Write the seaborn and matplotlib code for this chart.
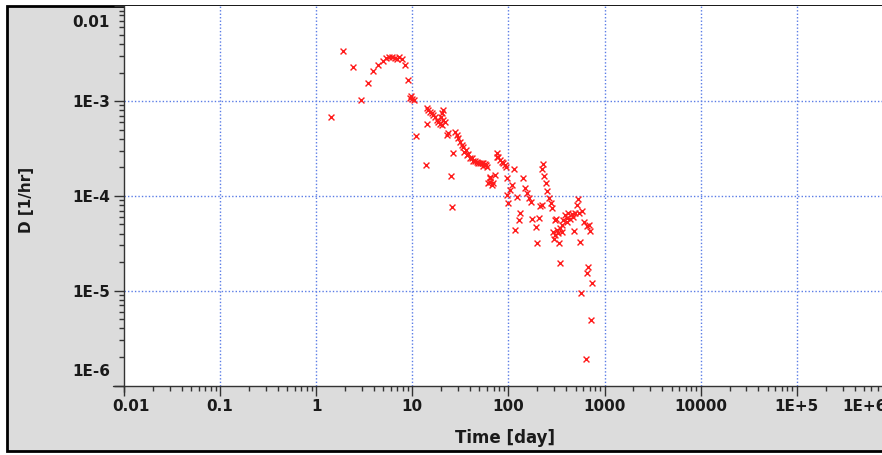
import matplotlib
matplotlib.use("Agg")
import matplotlib.pyplot as plt
import matplotlib.transforms as mtransforms
from matplotlib.patches import Rectangle
from matplotlib.lines import Line2D
from matplotlib.ticker import LogLocator, NullFormatter, FixedLocator
import seaborn as sns
import pandas as pd

# ---------------- data ----------------
time_day = [1.43, 1.90, 2.41, 2.93, 3.46, 3.90, 4.40, 4.96, 5.33, 5.72, 6.15, 6.61,
            6.93, 7.27, 7.81, 8.40, 9.02, 9.46, 9.69, 9.93, 10.4, 10.9, 13.9, 14.2,
            14.2, 14.7, 15.3, 15.9, 16.5, 17.2, 17.9, 18.6, 19.4, 20.2,
            21.0, 20.5, 19.9, 21.0, 21.9, 23.7, 22.8, 26.7, 25.0, 26.1,
            27.8, 29.0, 30.1, 31.4, 32.7, 34.0, 34.5, 35.8, 36.8, 38.3, 39.8, 41.5,
            43.1, 44.9, 46.8, 48.8, 50.6, 52.7, 54.8, 57.1, 58.5, 60.3,
            64.4, 64.4, 61.8, 67.0, 69.7, 64.4, 72.5, 53.8,
            75.5, 76.6, 78.5, 81.8, 85.2, 88.5, 92.2, 94.4,
            113, 96.7, 108, 104, 143, 149, 155, 162, 170, 96.0, 99.8, 122, 213, 228,
            222, 235, 246, 254, 267, 275, 282,
            132, 129, 117, 175, 208, 194, 200, 305, 222,
            293, 318, 344, 305, 330, 359, 298, 336, 344, 313,
            388, 420, 456, 404, 438, 473, 373, 407, 493, 361, 534, 521, 579, 547,
            484, 556, 612, 653, 695, 706, 674, 653, 741, 569, 724, 642]

d_per_hr = [6.79e-4, 3.37e-3, 2.29e-3, 1.03e-3, 1.55e-3, 2.08e-3, 2.41e-3, 2.65e-3,
            2.85e-3, 2.92e-3, 2.92e-3, 2.85e-3, 2.78e-3, 2.92e-3, 2.78e-3, 2.41e-3,
            1.67e-3, 1.08e-3, 1.13e-3, 1.05e-3, 1.03e-3, 4.28e-4, 2.12e-4, 5.73e-4,
            8.46e-4, 8.05e-4, 7.67e-4, 7.43e-4, 7.13e-4, 6.75e-4, 6.32e-4, 6.07e-4,
            5.69e-4, 5.60e-4,
            8.05e-4, 7.43e-4, 6.84e-4, 6.32e-4, 6.07e-4, 4.57e-4, 4.39e-4, 2.81e-4,
            1.64e-4, 7.58e-5,
            4.75e-4, 4.39e-4, 4.13e-4, 3.73e-4, 3.44e-4, 3.28e-4, 2.92e-4, 3.05e-4,
            2.70e-4, 2.75e-4, 2.49e-4, 2.49e-4, 2.35e-4, 2.31e-4, 2.26e-4, 2.22e-4,
            2.21e-4, 2.21e-4, 2.21e-4, 2.17e-4, 2.12e-4, 2.00e-4,
            1.59e-4, 1.41e-4, 1.36e-4, 1.30e-4, 1.36e-4, 1.53e-4, 1.66e-4, 2.07e-4,
            2.81e-4, 2.59e-4, 2.57e-4, 2.39e-4, 2.30e-4, 2.21e-4, 2.12e-4, 2.03e-4,
            1.90e-4, 1.53e-4, 1.30e-4, 1.15e-4, 1.53e-4, 1.20e-4, 1.07e-4, 9.43e-5,
            8.69e-5, 1.02e-4, 8.36e-5, 9.81e-5, 7.82e-5, 2.17e-4, 1.91e-4, 1.62e-4,
            1.36e-4, 1.13e-4, 9.43e-5, 8.36e-5, 7.40e-5,
            6.55e-5, 5.57e-5, 4.37e-5, 5.66e-5, 5.81e-5, 4.73e-5, 3.16e-5, 5.57e-5, 8.02e-5,
            4.19e-5, 4.37e-5, 4.55e-5, 3.87e-5, 4.03e-5, 4.19e-5, 3.51e-5, 3.16e-5,
            1.97e-5, 5.66e-5,
            6.29e-5, 6.55e-5, 6.44e-5, 5.81e-5, 5.66e-5, 6.04e-5, 5.57e-5, 5.31e-5,
            6.68e-5, 4.93e-5, 9.20e-5, 8.02e-5, 6.93e-5, 6.60e-5, 4.26e-5, 3.29e-5,
            5.35e-5, 4.81e-5, 4.93e-5, 4.30e-5, 1.79e-5, 1.53e-5, 1.20e-5, 9.39e-6,
            4.91e-6, 1.89e-6]

x_ticks = [0.01, 0.1, 1, 10, 100, 1000, 10000, 1e5, 1e6]
x_tick_labels = ["0.01", "0.1", "1", "10", "100", "1000", "10000", "1E+5", "1E+6"]
y_ticks = [1e-6, 1e-5, 1e-4, 1e-3, 1e-2]
y_tick_labels = ["1E-6", "1E-5", "1E-4", "1E-3", "0.01"]

df = pd.DataFrame({"time": time_day, "D": d_per_hr})

# ---------------- figure ----------------
sns.set_theme(style="white")
plt.rcParams["font.family"] = ["DejaVu Sans"]

W, H = 882, 455
fig = plt.figure(figsize=(W / 100, H / 100), dpi=100, facecolor="white")

# grey panel with black border
fig.add_artist(Rectangle((7 / W, 4 / H), 1.2, (451 - 4 - 2) / H,
                         transform=fig.transFigure, facecolor="#dcdcdc",
                         edgecolor="black", linewidth=2, zorder=-5))

ax_left, ax_right = 124, 892.8
ax_top, ax_bot = 6.3, 385.5
ax = fig.add_axes([ax_left / W, (H - ax_bot) / H,
                   (ax_right - ax_left) / W, (ax_bot - ax_top) / H])
ax.set_facecolor("white")

sns.scatterplot(data=df, x="time", y="D", ax=ax, marker="x", color="#ff1a1a",
                s=18, linewidth=1.0, zorder=4, legend=False)

ax.set_xscale("log")
ax.set_yscale("log")
ax.set_xlim(x_ticks[0], x_ticks[-1])
ax.set_ylim(y_ticks[0], y_ticks[-1])

# grid (major decades, blue dotted)
grid_kw = dict(color="#5a7ce6", linestyle=(0, (1, 1.5)), linewidth=1.0, zorder=1)
for xv in x_ticks[1:-1]:
    ax.axvline(xv, **grid_kw)
for yv in y_ticks[1:-1]:
    ax.axhline(yv, **grid_kw)

ax.xaxis.set_major_locator(FixedLocator(x_ticks))
ax.yaxis.set_major_locator(FixedLocator(y_ticks))
ax.set_xticklabels(x_tick_labels)
ax.set_yticklabels(y_tick_labels)
ax.xaxis.set_minor_locator(LogLocator(base=10, subs=range(2, 10), numticks=50))
ax.yaxis.set_minor_locator(LogLocator(base=10, subs=range(2, 10), numticks=50))
ax.xaxis.set_minor_formatter(NullFormatter())
ax.yaxis.set_minor_formatter(NullFormatter())

ax.tick_params(which="both", bottom=True, left=True, top=False, right=False)
ax.tick_params(which="major", direction="out", length=7, width=1,
               color="#333333", labelsize=11, pad=3, labelcolor="#1a1a1a")
ax.tick_params(which="minor", direction="out", length=3.6, width=1,
               color="#333333")
for lab in ax.get_xticklabels() + ax.get_yticklabels():
    lab.set_fontweight("bold")

for side in ("top", "right"):
    ax.spines[side].set_visible(False)
for side in ("left", "bottom"):
    ax.spines[side].set_color("#333333")
    ax.spines[side].set_linewidth(1.0)

# small axis extensions at the origin ("+" corner)
ax.add_line(Line2D([-11 / (ax_right - ax_left), 0], [0, 0], transform=ax.transAxes,
                   color="#333333", lw=1.0, clip_on=False))
ax.add_line(Line2D([0, 0], [-6 / (ax_bot - ax_top), 0], transform=ax.transAxes,
                   color="#333333", lw=1.0, clip_on=False))

# shift end labels inward
def shift(label, dx_px, dy_px):
    label.set_transform(label.get_transform() +
                        mtransforms.ScaledTranslation(dx_px / 100, dy_px / 100,
                                                      fig.dpi_scale_trans))

xl = ax.get_xticklabels()
yl = ax.get_yticklabels()
shift(xl[0], 7, 0)
shift(xl[-1], -28, 0)
shift(yl[0], 0, 15)
shift(yl[-1], 0, -14.5)

ax.set_xlabel("Time [day]", fontsize=12, fontweight="bold", color="#1a1a1a", va="center")
ax.set_ylabel("D [1/hr]", fontsize=11, fontweight="bold", color="#1a1a1a", va="center")
ax.xaxis.set_label_coords((505 - ax_left) / (ax_right - ax_left),
                          -(438 - ax_bot) / (ax_bot - ax_top))
ax.yaxis.set_label_coords((27 - ax_left) / (ax_right - ax_left),
                          (ax_bot - 200) / (ax_bot - ax_top))

fig.savefig("out.png", dpi=100, facecolor=fig.get_facecolor())
